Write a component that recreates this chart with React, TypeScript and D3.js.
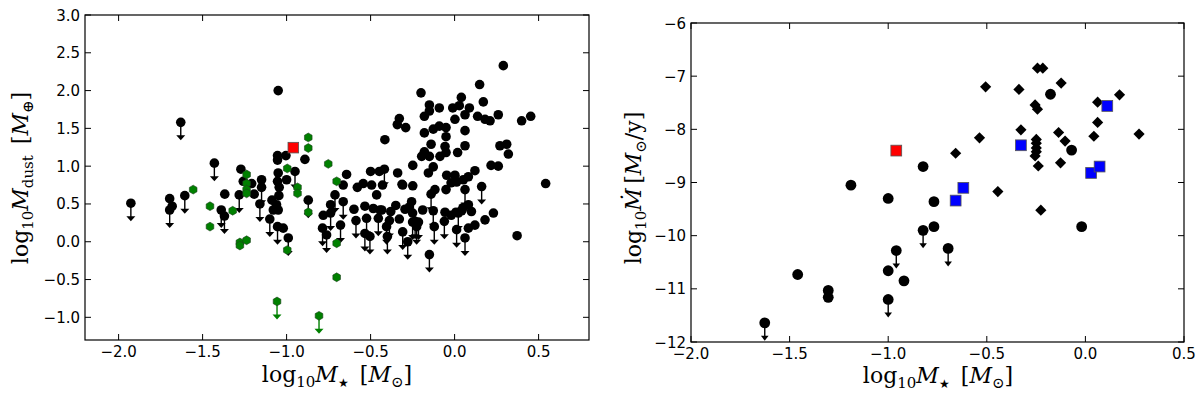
import React from 'react';
import * as d3 from 'd3';

// ---- left panel: dust mass vs stellar mass ----
const dustDetected: [number, number][] = [
  [-1.696, 0.57], [-1.681, 0.47], [-1.368, 0.63],
  [-1.272, 0.96], [-1.258, 0.80], [-1.208, 0.77], [-1.193, 0.63], [-1.149, 0.82],
  [-1.087, 0.55], [-1.060, 0.49], [-1.079, 0.42], [-1.050, 0.42],
  [-1.054, 1.14], [-1.004, 1.14], [-1.054, 1.08], [-0.891, 1.09],
  [-1.050, 0.91], [-1.054, 0.80], [-1.000, 0.82], [-1.044, 0.72], [-1.046, 0.61],
  [-1.020, 0.18], [-1.050, 2.00],
  [-0.643, 0.89], [-0.663, 0.75], [-0.738, 0.49], [-0.782, 0.35], [-0.599, 0.43],
  [-0.579, 0.72], [-0.544, 0.77], [-0.500, 0.93], [-0.448, 0.93],
  [-0.534, 0.47], [-0.484, 0.44], [-0.464, 0.62], [-0.444, 0.42], [-0.494, 0.75], [-0.429, 0.75],
  [-0.415, 1.35],
  [0.290, 2.33], [0.149, 2.08], [-0.200, 1.97], [0.040, 1.91], [0.171, 1.85], [-0.150, 1.81],
  [-0.091, 1.77], [-0.011, 1.77], [0.028, 1.80], [0.088, 1.77], [-0.180, 1.66], [-0.150, 1.73],
  [0.062, 1.68], [0.002, 1.62], [0.137, 1.66], [0.181, 1.62], [0.211, 1.60], [0.260, 1.68],
  [0.399, 1.60], [0.453, 1.66], [-0.329, 1.63], [-0.341, 1.55], [-0.291, 1.51], [-0.180, 1.44],
  [-0.127, 1.49], [-0.091, 1.53], [-0.051, 1.51], [-0.051, 1.39], [0.062, 1.47], [-0.140, 1.29],
  [-0.057, 1.26], [0.062, 1.27], [0.018, 1.18], [-0.051, 1.18], [-0.087, 1.13], [-0.180, 1.19],
  [-0.196, 1.13], [-0.150, 1.13], [-0.127, 0.99], [-0.156, 0.91], [-0.249, 1.01],
  [-0.339, 0.91], [0.270, 1.27], [0.310, 1.29], [0.320, 1.16], [0.217, 1.01], [0.260, 1.00],
  [0.542, 0.77], [-0.047, 0.88], [0.002, 0.88], [-0.021, 0.78], [0.012, 0.79], [0.082, 0.86],
  [0.121, 0.94], [0.052, 0.82], [-0.051, 0.69], [-0.309, 0.75], [-0.249, 0.74], [-0.117, 0.69],
  [-0.313, 0.76],
  [0.372, 0.08], [0.231, 0.38], [0.181, 0.29], [0.121, 0.22], [0.082, 0.49], [0.042, 0.41],
  [0.008, 0.39], [-0.057, 0.39], [-0.190, 0.42], [-0.256, 0.53], [-0.269, 0.46], [-0.295, 0.43],
  [-0.250, 0.38], [-0.329, 0.30], [-0.434, 0.42], [0.082, 0.18],
  [0.100, 0.40], [0.050, 0.45], [-0.020, 0.35], [-0.350, 0.48], [-0.380, 0.40],
];

const dustUpperLimits: [number, number][] = [
  [-1.927, 0.51], [-1.696, 0.42], [-1.630, 1.58], [-1.606, 0.61], [-1.430, 1.04],
  [-1.389, 0.42], [-1.370, 0.34], [-1.282, 0.62], [-1.149, 0.72], [-1.159, 0.50],
  [-1.054, 0.20], [-0.990, 0.05], [-0.950, 0.93], [-0.871, 0.55], [-0.712, 0.62],
  [-0.663, 0.53], [-0.738, 0.38], [-0.786, 0.18], [-0.762, 0.09], [-0.679, 0.22],
  [-0.587, 0.28], [-0.524, 0.31], [-0.534, 0.11], [-0.504, 0.07], [-0.454, 0.31],
  [-0.405, 0.20], [-0.418, 0.96], [0.062, 0.69], [-0.140, 0.63], [0.161, 0.73],
  [-0.127, 0.41], [-0.388, 0.28], [-0.061, 0.27], [-0.121, 0.20], [0.062, 0.05],
  [-0.150, -0.17], [-0.279, 0.00], [-0.400, 0.07], [-0.309, 0.13], [-0.226, 0.20],
  [0.022, 0.38], [0.012, 0.16], [-0.250, 0.26], [-0.235, 0.27], [-0.215, 0.26],
  [-1.100, 0.30],
];

const dustGreen: [number, number][] = [
  [-0.871, 1.38], [-0.871, 1.24], [-0.752, 1.03], [-0.996, 0.97], [-0.702, 0.80],
  [-1.238, 0.89], [-1.238, 0.77], [-1.238, 0.69], [-1.238, 0.64], [-0.935, 0.72],
  [-0.935, 0.64], [-1.556, 0.69], [-1.456, 0.47], [-1.456, 0.20], [-1.321, 0.41],
  [-0.871, 0.39], [-1.278, -0.01], [-1.278, -0.05], [-1.238, 0.02], [-0.996, -0.11],
  [-0.702, -0.02], [-0.702, -0.47],
];
const dustGreenLimits: [number, number][] = [[-1.057, -0.79], [-0.807, -0.98]];
const dustRed: [number, number][] = [[-0.960, 1.245]];

const dustXTicks = [-2.0, -1.5, -1.0, -0.5, 0.0, 0.5];
const dustYTicks = [-1.0, -0.5, 0.0, 0.5, 1.0, 1.5, 2.0, 2.5, 3.0];

// ---- right panel: mass-loss rate vs stellar mass ----
const mdotDiamonds: [number, number][] = [
  [-0.243, -6.85], [-0.216, -6.85], [-0.506, -7.20], [-0.337, -7.25], [-0.123, -7.13],
  [0.173, -7.35], [-0.255, -7.54], [-0.243, -7.62], [0.062, -7.49], [0.062, -7.87],
  [-0.327, -8.01], [-0.136, -8.06], [0.043, -8.13], [0.272, -8.09], [-0.537, -8.16],
  [-0.249, -8.19], [-0.249, -8.26], [-0.249, -8.35], [-0.249, -8.42], [-0.255, -8.50],
  [-0.103, -8.22], [-0.658, -8.45], [-0.239, -8.69], [-0.126, -8.63], [-0.444, -9.17],
  [-0.226, -9.52],
];
const mdotCircles: [number, number][] = [
  [-0.177, -7.34], [-0.070, -8.39], [-0.823, -8.70], [-1.189, -9.05], [-1.000, -9.30],
  [-0.768, -9.36], [-0.768, -9.83], [-0.019, -9.83], [-1.459, -10.73], [-1.000, -10.66],
  [-0.920, -10.85], [-1.304, -11.03], [-1.304, -11.16],
];
const mdotUpperLimits: [number, number][] = [
  [-0.823, -9.90], [-0.959, -10.28], [-0.696, -10.24], [-1.000, -11.20], [-1.626, -11.64],
];
const mdotBlue: [number, number][] = [
  [-0.327, -8.30], [0.111, -7.56], [0.029, -8.82], [0.072, -8.70], [-0.619, -9.10], [-0.658, -9.34],
];
const mdotRed: [number, number][] = [[-0.959, -8.40]];

const mdotXTicks = [-2.0, -1.5, -1.0, -0.5, 0.0, 0.5];
const mdotYTicks = [-12, -11, -10, -9, -8, -7, -6];

const TICK_FONT = 'DejaVu Sans, sans-serif';
const MATH_FONT = 'DejaVu Serif, serif';
const fmt1 = (v: number) => d3.format('.1f')(v).replace('-', '\u2212');
const fmt0 = (v: number) => d3.format('d')(v).replace('-', '\u2212');

const hexPath = (r: number) =>
  d3.line()(d3.range(7).map(i => {
    const a = (Math.PI / 3) * i - Math.PI / 2;
    return [r * Math.cos(a), r * Math.sin(a)] as [number, number];
  })) + 'Z';

function Frame({ x, y, xTicks, yTicks, xFmt, yFmt }: any) {
  const [x0, x1] = x.range();
  const [y0, y1] = y.range();
  const tl = 6;
  return (
    <g>
      <rect x={x0} y={y1} width={x1 - x0} height={y0 - y1} fill="none" stroke="#000" strokeWidth={1.2} />
      {xTicks.map((t: number) => (
        <g key={'x' + t}>
          <line x1={x(t)} x2={x(t)} y1={y0} y2={y0 - tl} stroke="#000" />
          <line x1={x(t)} x2={x(t)} y1={y1} y2={y1 + tl} stroke="#000" />
          <text x={x(t)} y={y0 + 17} textAnchor="middle" fontFamily={TICK_FONT} fontSize={15}>{xFmt(t)}</text>
        </g>
      ))}
      {yTicks.map((t: number) => (
        <g key={'y' + t}>
          <line x1={x0} x2={x0 + tl} y1={y(t)} y2={y(t)} stroke="#000" />
          <line x1={x1} x2={x1 - tl} y1={y(t)} y2={y(t)} stroke="#000" />
          <text x={x0 - 5} y={y(t) + 5.5} textAnchor="end" fontFamily={TICK_FONT} fontSize={15}>{yFmt(t)}</text>
        </g>
      ))}
    </g>
  );
}

function Limits({ data, x, y, color, hw }: any) {
  return (
    <g>
      {data.map(([a, b]: [number, number], i: number) => {
        const cx = x(a), cy = y(b);
        return (
          <g key={i}>
            <line x1={cx} x2={cx} y1={cy} y2={cy + 14} stroke={color} strokeWidth={1.4} />
            <path d={`M${cx - hw},${cy + 13}L${cx + hw},${cy + 13}L${cx},${cy + 18}Z`} fill={color} />
          </g>
        );
      })}
    </g>
  );
}

export default function App() {
  // left axes
  const xL = d3.scaleLinear().domain([-2.2, 0.8]).range([85, 589]);
  const yL = d3.scaleLinear().domain([-1.3, 3.0]).range([340, 15]);
  // right axes
  const xR = d3.scaleLinear().domain([-2.0, 0.5]).range([691, 1184]);
  const yR = d3.scaleLinear().domain([-12, -6]).range([342, 23]);

  const hex = hexPath(4.4);
  const diamond = d3.symbol(d3.symbolDiamond2, 80)();

  return (
    <svg width={1200} height={395} style={{ position: 'absolute', left: 0, top: 0, background: '#fff' }}>
      {/* ---- left panel ---- */}
      <defs>
        <clipPath id="clipL"><rect x={85} y={15} width={504} height={325} /></clipPath>
        <clipPath id="clipR"><rect x={691} y={23} width={493} height={319} /></clipPath>
      </defs>
      <g clipPath="url(#clipL)">
        <Limits data={dustUpperLimits} x={xL} y={yL} color="#000" hw={4.5} />
        {dustUpperLimits.concat(dustDetected).map(([a, b], i) => (
          <circle key={i} cx={xL(a)} cy={yL(b)} r={4.8} fill="#000" />
        ))}
        <Limits data={dustGreenLimits} x={xL} y={yL} color="#008000" hw={4.5} />
        {dustGreen.concat(dustGreenLimits).map(([a, b], i) => (
          <path key={i} d={hex} transform={`translate(${xL(a)},${yL(b)})`} fill="#008000" stroke="#1f3f1f" strokeWidth={0.6} />
        ))}
        {dustRed.map(([a, b], i) => (
          <rect key={i} x={xL(a) - 5.3} y={yL(b) - 5.3} width={10.6} height={10.6} fill="#ff0000" stroke="#555" strokeWidth={0.8} />
        ))}
      </g>
      <Frame x={xL} y={yL} xTicks={dustXTicks} yTicks={dustYTicks} xFmt={fmt1} yFmt={fmt1} />
      <text x={337} y={382} textAnchor="middle" fontFamily={MATH_FONT} fontSize={22}>
        <tspan>log</tspan>
        <tspan fontSize={15} dy={5}>10</tspan>
        <tspan fontStyle="italic" dy={-5}>M</tspan>
        <tspan fontSize={12} dy={5}>★</tspan>
        <tspan dy={-5}>{'\u2002['}</tspan>
        <tspan fontStyle="italic">M</tspan>
        <tspan fontSize={15} dy={5}>⊙</tspan>
        <tspan dy={-5}>]</tspan>
      </text>
      <text transform="translate(28,178) rotate(-90)" textAnchor="middle" fontFamily={MATH_FONT} fontSize={22}>
        <tspan>log</tspan>
        <tspan fontSize={15} dy={5}>10</tspan>
        <tspan fontStyle="italic" dy={-5}>M</tspan>
        <tspan fontSize={15} dy={5}>dust</tspan>
        <tspan dy={-5}>{'\u2002['}</tspan>
        <tspan fontStyle="italic">M</tspan>
        <tspan fontSize={15} dy={5}>⊕</tspan>
        <tspan dy={-5}>]</tspan>
      </text>

      {/* ---- right panel ---- */}
      <g clipPath="url(#clipR)">
        <Limits data={mdotUpperLimits} x={xR} y={yR} color="#000" hw={3.8} />
        {mdotCircles.concat(mdotUpperLimits).map(([a, b], i) => (
          <circle key={i} cx={xR(a)} cy={yR(b)} r={5.4} fill="#000" />
        ))}
        {mdotDiamonds.map(([a, b], i) => (
          <path key={i} d={diamond} transform={`translate(${xR(a)},${yR(b)})`} fill="#000" />
        ))}
        {mdotBlue.map(([a, b], i) => (
          <rect key={i} x={xR(a) - 5.4} y={yR(b) - 5.4} width={10.8} height={10.8} fill="#0000ff" stroke="#555" strokeWidth={0.8} />
        ))}
        {mdotRed.map(([a, b], i) => (
          <rect key={i} x={xR(a) - 5.4} y={yR(b) - 5.4} width={10.8} height={10.8} fill="#ff0000" stroke="#555" strokeWidth={0.8} />
        ))}
      </g>
      <Frame x={xR} y={yR} xTicks={mdotXTicks} yTicks={mdotYTicks} xFmt={fmt1} yFmt={fmt0} />
      <text x={938} y={383} textAnchor="middle" fontFamily={MATH_FONT} fontSize={22}>
        <tspan>log</tspan>
        <tspan fontSize={15} dy={5}>10</tspan>
        <tspan fontStyle="italic" dy={-5}>M</tspan>
        <tspan fontSize={12} dy={5}>★</tspan>
        <tspan dy={-5}>{'\u2002['}</tspan>
        <tspan fontStyle="italic">M</tspan>
        <tspan fontSize={15} dy={5}>⊙</tspan>
        <tspan dy={-5}>]</tspan>
      </text>
      <text transform="translate(641,188) rotate(-90)" textAnchor="middle" fontFamily={MATH_FONT} fontSize={22}>
        <tspan>log</tspan>
        <tspan fontSize={15} dy={5}>10</tspan>
        <tspan fontStyle="italic" dy={-5}>Ṁ</tspan>
        <tspan>{'\u2009['}</tspan>
        <tspan fontStyle="italic">M</tspan>
        <tspan fontSize={15} dy={5}>⊙</tspan>
        <tspan dy={-5}>/y]</tspan>
      </text>
    </svg>
  );
}
